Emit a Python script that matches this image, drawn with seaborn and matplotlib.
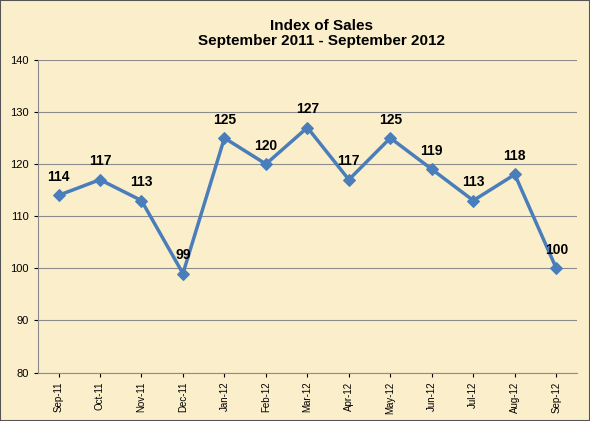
import matplotlib.pyplot as plt
import seaborn as sns
import pandas as pd

months = ['Sep-11', 'Oct-11', 'Nov-11', 'Dec-11', 'Jan-12', 'Feb-12', 'Mar-12',
          'Apr-12', 'May-12', 'Jun-12', 'Jul-12', 'Aug-12', 'Sep-12']
sales_index = [114, 117, 113, 99, 125, 120, 127, 117, 125, 119, 113, 118, 100]

df = pd.DataFrame({'month': months, 'index': sales_index})
df['pos'] = range(len(df))

sns.set_style('white')
plt.rcParams['font.family'] = ['Liberation Sans', 'DejaVu Sans']
plt.rcParams['text.color'] = 'black'
plt.rcParams['xtick.color'] = 'black'
plt.rcParams['ytick.color'] = 'black'

bg = '#fbefcb'
fig = plt.figure(figsize=(5.9, 4.21), dpi=100, facecolor=bg)
ax = fig.add_axes([0.064, 0.115, 0.914, 0.743])
ax.set_facecolor(bg)

sns.lineplot(data=df, x='pos', y='index', ax=ax, color='#4a7ebb', linewidth=2.5,
             marker='D', markersize=6, markeredgecolor='#4a7ebb')

for x, y in zip(df['pos'], df['index']):
    ax.text(x, y + 2.2, str(y), ha='center', va='bottom', fontsize=10,
            fontweight='bold', color='black')

ax.set_ylim(80, 140)
ax.set_yticks(range(80, 141, 10))
ax.set_xlim(-0.5, len(months) - 0.5)
ax.set_xticks(df['pos'])
ax.set_xticklabels(months, rotation=90, fontsize=7)
ax.tick_params(axis='y', labelsize=8, length=3, left=True, colors='black')
ax.tick_params(axis='x', length=3, bottom=True, colors='black')
ax.yaxis.grid(True, color='#8c8c8c', linewidth=0.8)
ax.set_axisbelow(True)
for side in ['top', 'right']:
    ax.spines[side].set_visible(False)
for side in ['left', 'bottom']:
    ax.spines[side].set_color('#8c8c8c')
ax.set_xlabel('')
ax.set_ylabel('')

fig.text(0.545, 0.885, 'Index of Sales\nSeptember 2011 - September 2012', ha='center',
         va='bottom', fontsize=11, fontweight='bold', linespacing=1.1, color='black')

fig.patches.append(plt.Rectangle((0, 0), 1, 1, transform=fig.transFigure, fill=False,
                                 edgecolor='#555555', linewidth=1.5))

fig.savefig('out.png', dpi=100, facecolor=bg)
